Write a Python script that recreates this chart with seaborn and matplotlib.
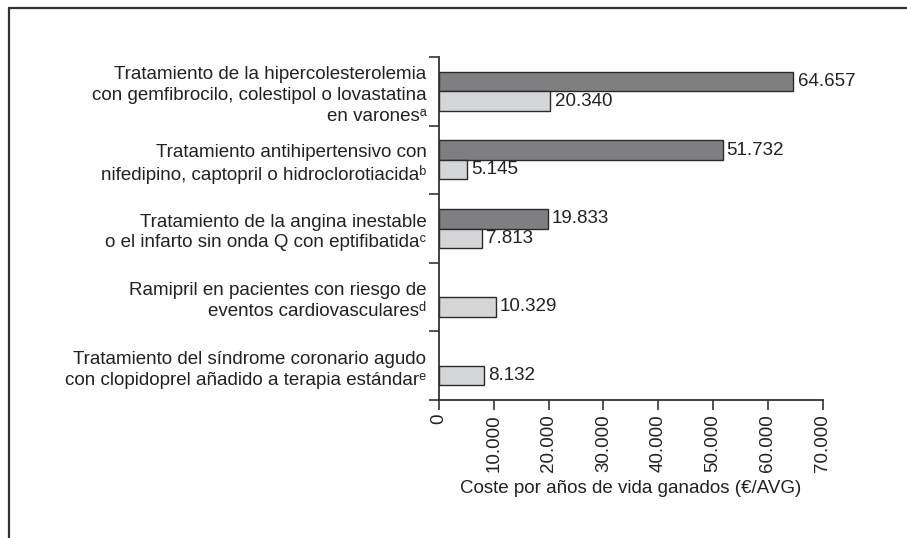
import pandas as pd
import matplotlib.pyplot as plt
import seaborn as sns
import numpy as np
from matplotlib.lines import Line2D

# Data
treatments = [
    "Tratamiento de la hipercolesterolemia\ncon gemfibrocilo, colestipol o lovastatina\nen varonesᵃ",
    "Tratamiento antihipertensivo con\nnifedipino, captopril o hidroclorotiacidaᵇ",
    "Tratamiento de la angina inestable\no el infarto sin onda Q con eptifibatidaᶜ",
    "Ramipril en pacientes con riesgo de\neventos cardiovascularesᵈ",
    "Tratamiento del síndrome coronario agudo\ncon clopidoprel añadido a terapia estándarᵉ",
]
series_names = ["A", "B"]
values_a = [64657, 51732, 19833, np.nan, np.nan]
values_b = [20340, 5145, 7813, 10329, 8132]
xticks = [0, 10000, 20000, 30000, 40000, 50000, 60000, 70000]

df = pd.DataFrame({
    "treatment": treatments * 2,
    "serie": [series_names[0]] * 5 + [series_names[1]] * 5,
    "coste": values_a + values_b,
})

sns.set_theme(style="white")
plt.rcParams["font.family"] = ["Liberation Sans", "DejaVu Sans"]

fig = plt.figure(figsize=(9.07, 5.38), dpi=100)
ax = fig.add_axes([0.484, 0.2565, 0.423, 0.6375])

sns.barplot(data=df, y="treatment", x="coste", hue="serie", orient="h",
            order=treatments, hue_order=series_names,
            palette={"A": "#7e7f82", "B": "#d5d6d8"}, width=0.57,
            edgecolor="#2a2a2a", linewidth=1.0, errorbar=None, ax=ax, legend=False)

for cont in ax.containers:
    labels = ["" if np.isnan(v) else f"{v:,.0f}".replace(",", ".") for v in cont.datavalues]
    ax.bar_label(cont, labels=labels, padding=3, fontsize=13.5, color="#222222")

ax.set_xlim(0, 70000)
ax.set_ylim(4.5, -0.5)
ax.set_xticks(xticks)
ax.set_xticklabels([f"{v:,.0f}".replace(",", ".") for v in xticks], rotation=90,
                   fontsize=13.5, color="#222222")
ax.set_xlabel("Coste por años de vida ganados (€/AVG)", fontsize=13.5, color="#222222", labelpad=6)
ax.set_ylabel("")

# category boundaries as major ticks, labels on minor ticks at centres
ax.set_yticks(np.arange(-0.5, 5, 1))
ax.set_yticklabels([])
ax.set_yticks(np.arange(5), minor=True)
ax.set_yticklabels(treatments, minor=True, fontsize=13.5, color="#222222", linespacing=1.3)
ax.tick_params(axis="y", which="major", direction="out", length=7, width=1.2, color="#333333", left=True)
ax.tick_params(axis="y", which="minor", length=0, pad=9)
ax.tick_params(axis="x", direction="out", length=7, width=1.2, color="#333333", bottom=True, pad=3)

sns.despine(ax=ax)
for s in ["left", "bottom"]:
    ax.spines[s].set_color("#333333")
    ax.spines[s].set_linewidth(1.3)

# outer frame lines (left and top)
fig.add_artist(Line2D([9 / 907, 9 / 907], [0, 1 - 8 / 538], color="#333333", lw=1.6))
fig.add_artist(Line2D([9 / 907, 1], [1 - 8 / 538, 1 - 8 / 538], color="#333333", lw=1.6))

fig.savefig("out.png", dpi=100)
